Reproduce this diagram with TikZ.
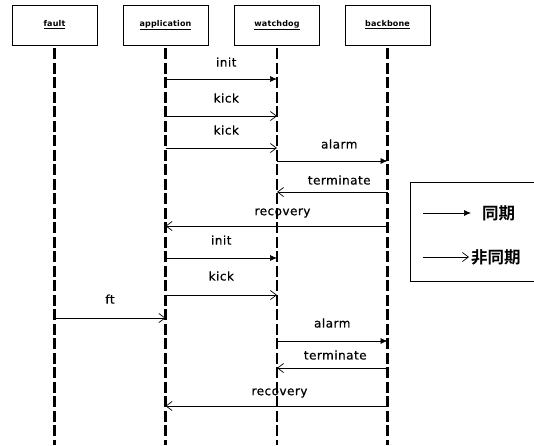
\documentclass[tikz,border=0pt]{standalone}
\usepackage{fontspec}
\setmainfont{DejaVu Sans}
\newfontfamily\lblfont[LetterSpace=4,FakeBold=0.6]{DejaVu Sans}
\newfontfamily\hdrfont[LetterSpace=2]{DejaVu Sans Bold}
\newfontfamily\cjkfont{Noto Sans CJK JP Bold}
\usetikzlibrary{arrows.meta}
\begin{document}
\begin{tikzpicture}[x=1pt,y=-1pt,
  actor/.style={draw,line width=0.8pt,minimum width=85pt,minimum height=40pt,inner sep=0pt,font=\hdrfont\fontsize{8}{9}\selectfont},
  lifeline/.style={line width=2.6pt,dash pattern=on 11pt off 3.5pt},
  syncmsg/.style={line width=0.7pt,-{Latex[length=7pt,width=6pt]}},
  asyncmsg/.style={line width=0.7pt,-{Straight Barb[length=6pt,width=9pt,line width=0.7pt]}},
  lbl/.style={font=\lblfont\fontsize{12}{14}\selectfont,inner sep=0pt}]
\useasboundingbox (0,0) rectangle (534,445);
\fill[white] (0,0) rectangle (534,445);
% actors
\node[actor] (fault) at (54.5,25) {\underline{fault}};
\node[actor] (app) at (165.5,25) {\underline{application}};
\node[actor] (wd) at (277,25) {\underline{watchdog}};
\node[actor] (bb) at (387.5,25) {\underline{backbone}};
% lifelines
\foreach \n in {fault,app,wd,bb}{
  \coordinate (\n-end) at (\n.south |- 0,445);
  \draw[lifeline,dash phase=-3pt] (\n.south) -- (\n-end);
}
% messages
\draw[syncmsg] (app |- 0,79) -- (wd |- 0,79) node[lbl,midway,above=12pt,xshift=5pt] {init};
\draw[asyncmsg] (app |- 0,116) -- (wd |- 0,116) node[lbl,midway,above=13pt,xshift=5pt] {kick};
\draw[asyncmsg] (app |- 0,148) -- (wd |- 0,148) node[lbl,midway,above=13pt,xshift=5pt] {kick};
\draw[syncmsg] (wd |- 0,161) -- (bb |- 0,161) node[lbl,midway,above=12pt,xshift=7pt] {alarm};
\draw[asyncmsg] (bb |- 0,192) -- (wd |- 0,192) node[lbl,midway,above=7pt,xshift=7pt] {terminate};
\draw[asyncmsg] (bb |- 0,226) -- (app |- 0,226) node[lbl,midway,above=8pt,xshift=6pt] {recovery};
\draw[syncmsg] (app |- 0,258) -- (wd |- 0,258) node[lbl,midway,above=13pt] {init};
\draw[asyncmsg] (app |- 0,295) -- (wd |- 0,295) node[lbl,midway,above=14pt] {kick};
\draw[asyncmsg] (fault |- 0,318) -- (app |- 0,318) node[lbl,midway,above=14pt] {ft};
\draw[syncmsg] (wd |- 0,341) -- (bb |- 0,341) node[lbl,midway,above=13pt] {alarm};
\draw[asyncmsg] (bb |- 0,368) -- (wd |- 0,368) node[lbl,midway,above=8pt,xshift=3pt] {terminate};
\draw[asyncmsg] (bb |- 0,406) -- (app |- 0,406) node[lbl,midway,above=8pt,xshift=3pt] {recovery};
% legend
\node[draw,line width=0.8pt,minimum width=130pt,minimum height=99pt,anchor=north west,inner sep=0pt] (legend) at (410,182) {};
\coordinate (s1) at (423,213);
\coordinate (s2) at (471,213);
\draw[syncmsg] (s1) -- (s2);
\node[font=\cjkfont\fontsize{16.5}{18}\selectfont,anchor=west,inner sep=0pt] (synctxt) at (482,213) {同期};
\coordinate (a1) at (423,257);
\coordinate (a2) at (469,257);
\draw[asyncmsg] (a1) -- (a2);
\node[font=\cjkfont\fontsize{16.5}{18}\selectfont,anchor=west,inner sep=0pt] (asynctxt) at (471,257) {非同期};
\end{tikzpicture}
\end{document}
